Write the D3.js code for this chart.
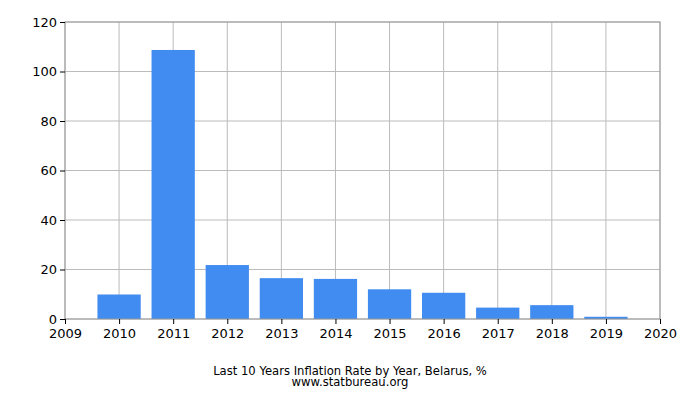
<!DOCTYPE html>
<html>
<head>
<meta charset="utf-8">
<script src="https://cdn.jsdelivr.net/npm/d3@7"></script>
<style>
  body { margin: 0; background: #fff; }
  svg text { font-family: "DejaVu Sans", sans-serif; }
</style>
</head>
<body>
<div id="chart"></div>
<script>
// data
const years = [2010, 2011, 2012, 2013, 2014, 2015, 2016, 2017, 2018, 2019];
const inflation = [9.9, 108.7, 21.8, 16.5, 16.2, 12.0, 10.6, 4.6, 5.6, 0.9];
const yTicks = [0, 20, 40, 60, 80, 100, 120];
const xTicks = [2009, 2010, 2011, 2012, 2013, 2014, 2015, 2016, 2017, 2018, 2019, 2020];

const W = 700, H = 400;
const margin = { top: 22, right: 40, bottom: 81, left: 65 };
const width = W - margin.left - margin.right,
    height = H - margin.top - margin.bottom;

const svg = d3.select("#chart").append("svg")
    .attr("width", W).attr("height", H);

const g = svg.append("g")
    .attr("transform", `translate(${margin.left},${margin.top})`);

const x = d3.scaleLinear().domain([2009, 2020]).range([0, width]);
const y = d3.scaleLinear().domain([0, 120]).range([height, 0]);
const step = x(2010) - x(2009);
const barW = step * 0.8;

// grid
g.append("g").selectAll("line.h")
    .data(yTicks)
    .join("line")
    .attr("x1", 0).attr("x2", width)
    .attr("y1", d => y(d)).attr("y2", d => y(d))
    .attr("stroke", "#bbb").attr("stroke-width", 1);

g.append("g").selectAll("line.v")
    .data(xTicks)
    .join("line")
    .attr("y1", 0).attr("y2", height)
    .attr("x1", d => x(d)).attr("x2", d => x(d))
    .attr("stroke", "#bbb").attr("stroke-width", 1);

// bars
g.append("g").selectAll("rect")
    .data(years)
    .join("rect")
    .attr("x", (d) => x(d) - barW / 2)
    .attr("width", barW)
    .attr("y", (d, i) => y(inflation[i]))
    .attr("height", (d, i) => height - y(inflation[i]))
    .attr("fill", "#418cf0");

// frame
g.append("rect")
    .attr("width", width).attr("height", height)
    .attr("fill", "none").attr("stroke", "#999");

// axes
const yAxis = g.append("g")
    .call(d3.axisLeft(y).tickValues(yTicks).tickSize(5).tickPadding(3));
yAxis.select(".domain").remove();
yAxis.selectAll("text").attr("font-size", 13).attr("fill", "#000")
    .style("font-family", "DejaVu Sans, sans-serif");

const xAxis = g.append("g")
    .attr("transform", `translate(0,${height})`)
    .call(d3.axisBottom(x).tickValues(xTicks).tickFormat(d => d).tickSize(5).tickPadding(5));
xAxis.select(".domain").remove();
xAxis.selectAll("text").attr("font-size", 13).attr("fill", "#000")
    .style("font-family", "DejaVu Sans, sans-serif");

// caption
svg.append("text")
    .attr("x", 350).attr("y", 375)
    .attr("text-anchor", "middle")
    .attr("font-size", 11.6)
    .text("Last 10 Years Inflation Rate by Year, Belarus, %");

svg.append("text")
    .attr("x", 350).attr("y", 386)
    .attr("text-anchor", "middle")
    .attr("font-size", 11.6)
    .text("www.statbureau.org");
</script>
</body>
</html>
